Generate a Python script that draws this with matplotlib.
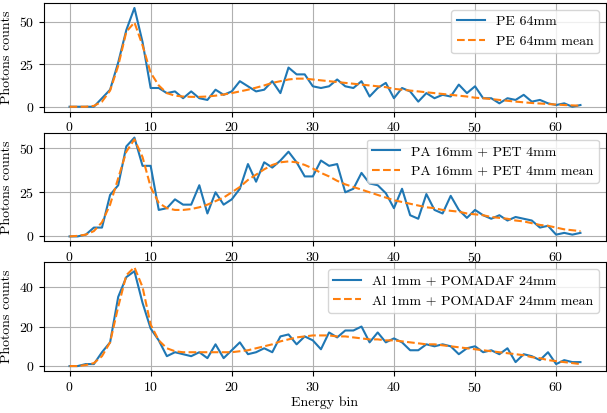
import numpy as np
import matplotlib
matplotlib.use("Agg")
from matplotlib import pyplot as plt

plt.rcParams['font.family'] = 'serif'
plt.rcParams['font.serif'] = ['cmr10']
plt.rcParams['mathtext.fontset'] = 'cm'
plt.rcParams['axes.formatter.use_mathtext'] = True
plt.rcParams['font.size'] = 10

bins = np.arange(64)

# PE 64mm
pe = [0, 0, 0, 0, 5, 10, 26, 45, 58, 38, 11, 11, 8, 9, 5, 9, 5, 4, 10, 7,
      9, 15, 12, 9, 10, 15, 8, 23, 19, 19, 12, 11, 12, 16, 12, 11, 15, 6, 11, 14,
      5, 11, 9, 3, 8, 5, 7, 6, 13, 8, 12, 5, 5, 2, 5, 4, 7, 3, 4, 2,
      1, 2, 0, 1]
pe_mean = [0, 0, 0, 0.5, 3, 9.5, 24, 44, 49.5, 36, 20, 12.5, 8, 6.5, 6, 5.8, 5.8, 6, 6.5, 7.2,
           8, 9, 10, 11.2, 12.5, 14, 15, 16, 16.5, 16.5, 16, 15.5, 15, 14.5, 14, 13.5, 13, 12.5, 12, 11.5,
           10.5, 10, 9.5, 9, 8.5, 8, 7.5, 7, 6.5, 6, 5.3, 5, 4.5, 4, 3.5, 3, 2.6, 2.2, 1.9, 1.6,
           1.3, 1, 0.8, 0.6]

# PA 16mm + PET 4mm
pa = [0, 0, 1, 5, 5, 23.5, 29, 51, 56, 40, 40, 15, 16, 21, 18, 18, 29, 13, 25, 18,
      21, 27, 41, 31, 42, 39, 43, 48, 42, 34, 34, 43, 40, 41, 25, 27, 36, 30, 29, 24.5,
      16, 27, 12, 10, 24, 15, 13, 23, 15, 10.5, 15, 12, 10, 12, 9, 11, 10, 9, 5, 6,
      1, 2, 1, 2]
pa_mean = [0, 0.3, 1, 3, 8, 18, 33, 48, 55, 45, 28, 19, 16, 15, 15, 15.5, 16.5, 18, 20, 22,
           25, 28, 32, 35, 38, 40.5, 42, 42.5, 42, 40.5, 38.5, 36, 34, 31.5, 29.5, 28, 26.5, 25, 23.5, 22,
           20.5, 19.5, 18.5, 17.5, 16.5, 16, 15, 14.5, 14, 13, 12.5, 12, 11, 10.5, 10, 9, 8.5, 7.5, 6.5, 6,
           5, 4, 3.5, 3]

# Al 1mm + POMADAF 24mm
al = [0, 0, 1, 1, 7, 12, 35, 45, 48, 32, 19, 13, 5, 7, 6, 5, 7, 4, 11, 4,
      8, 12, 6, 7, 9, 7, 15, 16, 11, 15, 13, 8.5, 17, 14.5, 18, 18, 20, 12, 17, 12,
      14, 12, 8, 8, 11, 10, 11, 10, 6, 9, 10, 7, 8, 6, 9, 2, 6, 5, 3, 7,
      1, 3, 2, 2]
al_mean = [0, 0, 0.5, 1.5, 5, 12, 30, 46, 50, 40, 21, 13, 9, 7.5, 7, 7, 7, 7, 7, 7,
           7, 7.5, 8, 9, 10, 11, 12.5, 13.5, 14.5, 15, 15.5, 15.5, 15.5, 15, 15, 14.5, 14, 13.5, 13.5, 13,
           13, 12.5, 12, 11.5, 11, 11, 10.5, 10, 9.5, 9, 8.5, 8, 7.5, 7, 6.5, 6, 5.5, 4.5, 4, 3,
           2.5, 2, 1.5, 1]

series = [("PE 64mm", pe, pe_mean, [0, 25, 50]),
          ("PA 16mm + PET 4mm", pa, pa_mean, [0, 25, 50]),
          ("Al 1mm + POMADAF 24mm", al, al_mean, [0, 20, 40])]

fig, axes = plt.subplots(3, 1, figsize=(6.07, 4.13), dpi=100)
fig.subplots_adjust(left=44/607, right=606/607, top=1-3/413, bottom=1-371/413, hspace=0.193)

for ax, (name, vals, mean, yt) in zip(axes, series):
    ax.plot(bins, vals, color='C0', label=name)
    ax.plot(bins, mean, color='C1', linestyle='--', label=name + " mean")
    ax.set_yticks(yt)
    ax.set_xticks([0, 10, 20, 30, 40, 50, 60])
    ax.set_ylabel("Photons counts")
    ax.grid(True)
    ax.legend(loc='upper right')

axes[-1].set_xlabel("Energy bin", labelpad=1)

fig.savefig("out.png", dpi=100)
